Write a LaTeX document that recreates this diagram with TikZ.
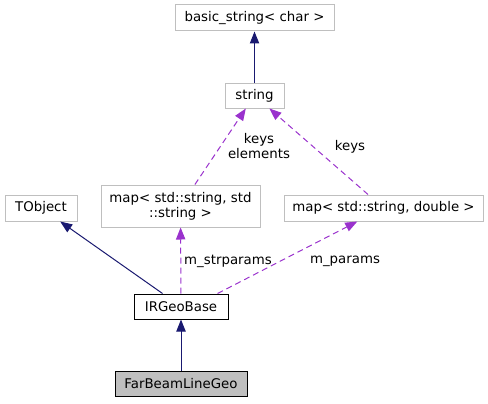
\documentclass[tikz,border=0pt]{standalone}
\usepackage{fontspec}
\setmainfont{DejaVu Sans}
\usetikzlibrary{arrows.meta}

\definecolor{edgeblue}{HTML}{191970}
\definecolor{edgepurple}{HTML}{9A32CD}
\definecolor{boxgray}{HTML}{BFBFBF}

\begin{document}
\begin{tikzpicture}[x=0.75pt,y=-0.75pt,font=\fontsize{10}{11.5}\selectfont,
  cls/.style={shape=rectangle,draw=boxgray,line width=0.75pt,align=center,inner sep=0pt},
  main/.style={cls,draw=black},
  inh/.style={-{Triangle[length=9pt,width=7pt]},draw=edgeblue,line width=0.75pt},
  use/.style={-{Triangle[length=9pt,width=7pt]},draw=edgepurple,line width=0.75pt,dash pattern=on 4.5pt off 3pt},
  lbl/.style={align=center,inner sep=0pt}]
\useasboundingbox (0,0) rectangle (488,403);
\node[cls,minimum width=119.25pt,minimum height=19.5pt] (basic) at (254.5,18) {basic\_string< char >};
\node[cls,minimum width=44.25pt,minimum height=18.75pt] (string) at (254.5,95.5) {string};
\node[cls,minimum width=54pt,minimum height=19.5pt] (tobject) at (41,208) {TObject};
\node[cls,minimum width=119.25pt,minimum height=31.5pt] (strmap) at (180.5,206) {map< std::string, std\\::string >};
\node[cls,minimum width=149.25pt,minimum height=19.5pt] (dblmap) at (383.5,208) {map< std::string, double >};
\node[main,minimum width=70.5pt,minimum height=18.75pt] (irgeo) at (181,306.5) {IRGeoBase};
\node[main,fill=boxgray,minimum width=99pt,minimum height=18.75pt] (farbeam) at (181,384) {FarBeamLineGeo};

\node[lbl] (keyselem) at (259,146) {keys\\elements};
\node[lbl] (keys) at (350,147) {keys};
\node[lbl] (strparams) at (228,261) {m\_strparams};
\node[lbl] (params) at (345,261) {m\_params};

\draw[inh] (string) -- (basic);
\draw[use] (strmap) -- (string);
\draw[use] (dblmap) -- (string);
\draw[inh] (irgeo) -- (tobject);
\draw[use] (irgeo) -- (strmap);
\draw[use] (irgeo.north east) ++(-11,0) -- (dblmap);
\draw[inh] (farbeam) -- (irgeo);
\end{tikzpicture}
\end{document}
